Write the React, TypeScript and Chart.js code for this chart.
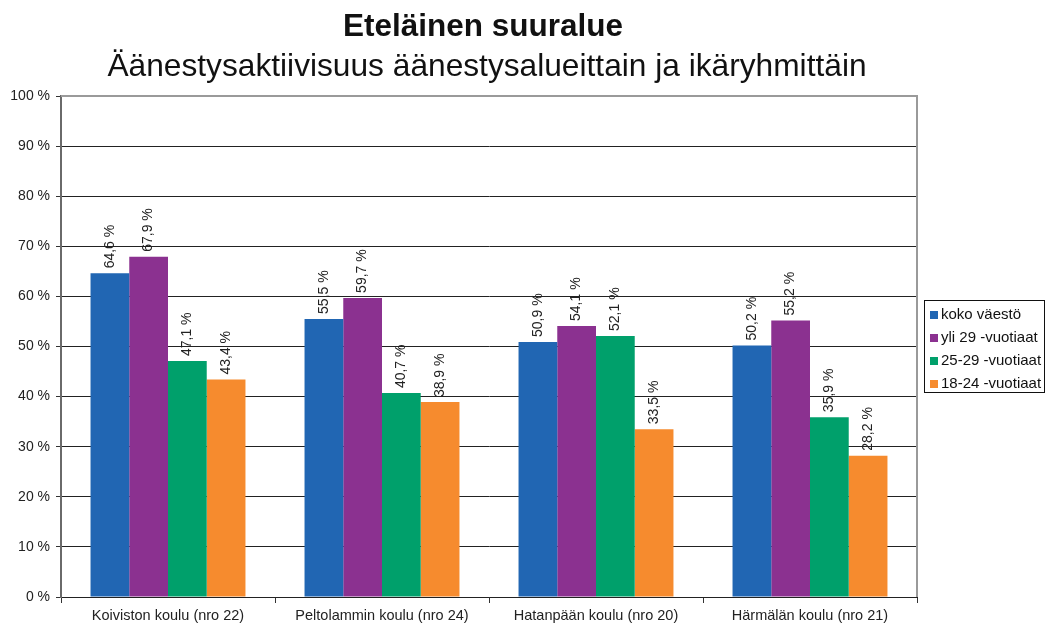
import React, { useEffect, useRef } from "react";
import Chart from "chart.js/auto";

const categories = [
  "Koiviston koulu (nro 22)",
  "Peltolammin koulu (nro 24)",
  "Hatanpään koulu (nro 20)",
  "Härmälän koulu (nro 21)",
];
const seriesNames = ["koko väestö", "yli 29 -vuotiaat", "25-29 -vuotiaat", "18-24 -vuotiaat"];
const kokoVaesto = [64.6, 55.5, 50.9, 50.2];
const yli29 = [67.9, 59.7, 54.1, 55.2];
const v25_29 = [47.1, 40.7, 52.1, 35.9];
const v18_24 = [43.4, 38.9, 33.5, 28.2];
const seriesColors = ["#2166b3", "#8b3190", "#00a06b", "#f68b2e"];
const titleLine1 = "Eteläinen suuralue";
const titleLine2 = "Äänestysaktiivisuus äänestysalueittain ja ikäryhmittäin";

const FONT = "'Liberation Sans', Arial, sans-serif";

const fmt = (v: number) => v.toFixed(1).replace(".", ",") + " %";

const customPlugin = {
  id: "custom",
  afterDatasetsDraw(chart: any) {
    const ctx = chart.ctx;
    const area = chart.chartArea;
    ctx.save();
    // plot border top/right
    ctx.strokeStyle = "#9a9a9a";
    ctx.lineWidth = 2;
    ctx.beginPath();
    ctx.moveTo(area.left, area.top);
    ctx.lineTo(area.right, area.top);
    ctx.lineTo(area.right, area.bottom);
    ctx.stroke();
    // data labels
    ctx.fillStyle = "#222";
    ctx.font = `14px ${FONT}`;
    ctx.textAlign = "left";
    ctx.textBaseline = "middle";
    chart.data.datasets.forEach((ds: any, di: number) => {
      const meta = chart.getDatasetMeta(di);
      meta.data.forEach((el: any, i: number) => {
        ctx.save();
        ctx.translate(el.x, el.y - 5);
        ctx.rotate(-Math.PI / 2);
        ctx.fillText(fmt(ds.data[i]), 0, 0);
        ctx.restore();
      });
    });
    // titles
    ctx.fillStyle = "#111";
    ctx.textAlign = "center";
    ctx.textBaseline = "alphabetic";
    ctx.font = `bold 31.5px ${FONT}`;
    ctx.fillText(titleLine1, 483, 36);
    ctx.font = `31.7px ${FONT}`;
    ctx.fillText(titleLine2, 487, 76);
    // legend
    const lx = 924.5, ly = 300.5, lw = 120, lh = 92;
    ctx.fillStyle = "#fff";
    ctx.fillRect(lx, ly, lw, lh);
    ctx.strokeStyle = "#111";
    ctx.lineWidth = 1;
    ctx.strokeRect(lx, ly, lw, lh);
    ctx.font = `15px ${FONT}`;
    ctx.textAlign = "left";
    ctx.textBaseline = "middle";
    seriesNames.forEach((name, i) => {
      const cy = 315 + i * 23;
      ctx.fillStyle = seriesColors[i];
      ctx.fillRect(930, cy - 4, 8, 8);
      ctx.fillStyle = "#111";
      ctx.fillText(name, 941, cy);
    });
    ctx.restore();
  },
};

export default function App() {
  const ref = useRef<HTMLCanvasElement | null>(null);
  useEffect(() => {
    document.body.style.margin = "0";
    const dataArrays = [kokoVaesto, yli29, v25_29, v18_24];
    const chart = new Chart(ref.current as HTMLCanvasElement, {
      type: "bar",
      data: {
        labels: categories,
        datasets: dataArrays.map((d, i) => ({
          label: seriesNames[i],
          data: d,
          backgroundColor: seriesColors[i],
          borderWidth: 0,
          barPercentage: 1,
          categoryPercentage: 0.724,
        })),
      },
      options: {
        animation: false,
        responsive: false,
        devicePixelRatio: 1,
        layout: { padding: { top: 96, right: 131, left: 0, bottom: 0 } },
        plugins: {
          legend: { display: false },
          title: { display: false },
          tooltip: { enabled: false },
        },
        scales: {
          x: {
            afterFit: (s: any) => {
              s.height = 31;
            },
            grid: {
              offset: true,
              drawOnChartArea: false,
              tickLength: 6,
              color: "#333",
            },
            border: { color: "#222", width: 1 },
            ticks: {
              font: { family: FONT, size: 14.5 },
              color: "#222",
              padding: 4,
              maxRotation: 0,
            },
          },
          y: {
            min: 0,
            max: 100,
            afterFit: (s: any) => {
              s.width = 61;
            },
            grid: {
              color: (c: any) => (c.tick && c.tick.value === 100 ? "rgba(0,0,0,0)" : "#222"),
              tickColor: "#333",
              tickLength: 5,
            },
            border: { color: "#6a6a6a", width: 2 },
            ticks: {
              stepSize: 10,
              font: { family: FONT, size: 14 },
              color: "#222",
              padding: 6,
              callback: (v: any) => v + " %",
            },
          },
        },
      },
      plugins: [customPlugin],
    });
    return () => chart.destroy();
  }, []);
  return (
    <div style={{ width: 1048, height: 628 }}>
      <canvas ref={ref} width={1048} height={628} style={{ display: "block" }} />
    </div>
  );
}
